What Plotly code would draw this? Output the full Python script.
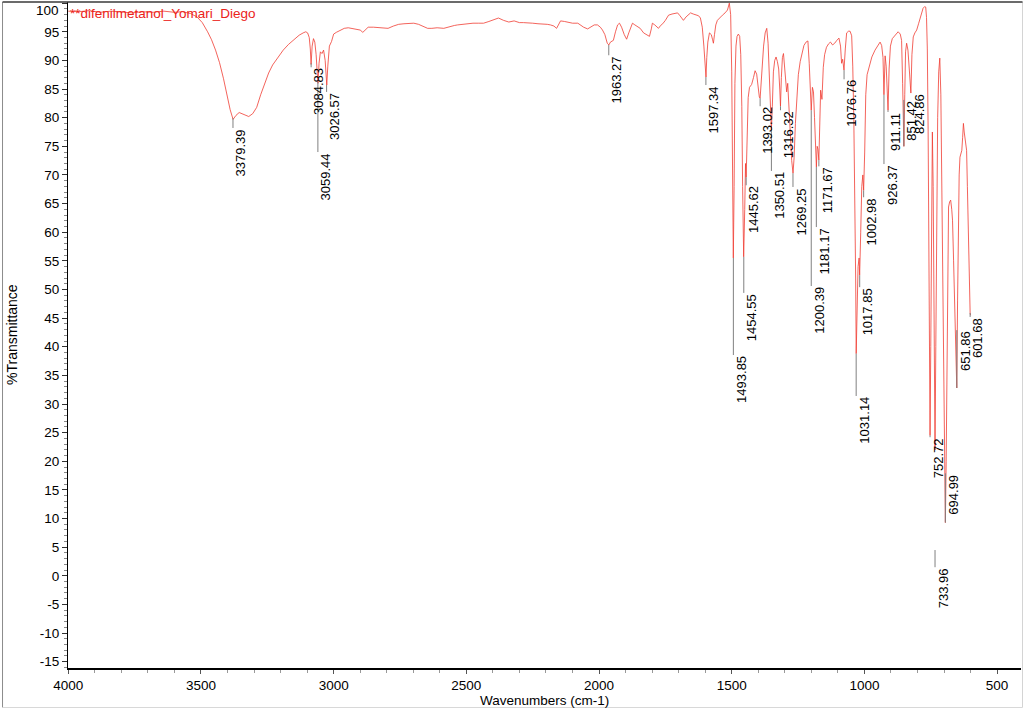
import plotly.graph_objects as go

# ---------------- data ----------------
wavenumber = [
    4000, 3960, 3920, 3880, 3840, 3800, 3760, 3720, 3680, 3640, 3600, 3570, 3540, 3515, 3495,
    3475, 3460, 3445, 3430, 3415, 3400, 3390, 3379, 3368, 3356, 3340, 3320, 3305, 3290, 3275,
    3260, 3245, 3230, 3210, 3190, 3170, 3150, 3130, 3115, 3105, 3098, 3092, 3088, 3085, 3081,
    3076, 3071, 3066, 3062, 3059, 3055, 3050, 3044, 3038, 3032, 3029, 3026, 3022, 3016, 3008,
    3000, 2990, 2975, 2960, 2945, 2930, 2915, 2900, 2890, 2880, 2870, 2850, 2830, 2810, 2795,
    2775, 2755, 2735, 2715, 2698, 2680, 2660, 2646, 2630, 2610, 2585, 2565, 2545, 2533, 2515,
    2495, 2475, 2455, 2435, 2415, 2395, 2379, 2360, 2340, 2320, 2300, 2285, 2269, 2250, 2230,
    2210, 2195, 2183, 2170, 2160, 2152, 2145, 2130, 2115, 2100, 2080, 2068, 2058, 2043, 2030,
    2018, 2006, 1995, 1987, 1978, 1969, 1963, 1957, 1946, 1938, 1930, 1923, 1915, 1905, 1896,
    1888, 1880, 1874, 1865, 1855, 1845, 1832, 1822, 1810, 1803, 1799, 1790, 1782, 1776, 1768,
    1760, 1750, 1738, 1725, 1715, 1704, 1695, 1688, 1682, 1672, 1662, 1655, 1645, 1635, 1625,
    1618, 1611, 1605, 1601, 1597, 1594, 1590, 1584, 1577, 1572, 1569, 1565, 1560, 1554, 1545,
    1535, 1525, 1516, 1509, 1504, 1500, 1497, 1494, 1491, 1488, 1484, 1480, 1475, 1470, 1466,
    1462, 1459, 1455, 1451, 1448, 1445.6, 1442, 1438, 1433, 1425, 1418, 1412, 1406, 1400, 1396,
    1393, 1389, 1385, 1380, 1374, 1368, 1363, 1358, 1354, 1350.5, 1347, 1343, 1338, 1333, 1328,
    1323, 1319, 1316.3, 1313, 1309, 1305, 1301, 1297, 1293, 1289, 1285, 1280, 1274, 1269, 1265,
    1260, 1255, 1249, 1242, 1235, 1228, 1220, 1213, 1208, 1204, 1200.4, 1196, 1192, 1188, 1184,
    1181, 1178, 1175, 1171.7, 1168, 1165, 1160, 1155, 1150, 1143, 1135, 1128, 1120, 1112, 1104,
    1096, 1090, 1086, 1082, 1077, 1072, 1067, 1060, 1054, 1048, 1044, 1040, 1036, 1033, 1031,
    1028, 1024, 1020, 1018, 1014, 1010, 1006, 1003, 999, 995, 990, 983, 972, 960, 950,
    941, 935, 930, 926.4, 922, 918, 914, 911, 907, 902, 895, 885, 873, 865, 860,
    856, 853, 851.4, 848, 845, 841, 836, 831, 827, 824.9, 821, 816, 810, 803, 796,
    790, 784, 779, 773, 769, 766, 763, 760, 757, 755, 752.7, 750, 747, 744, 741,
    738, 736, 734, 731, 728, 724, 720, 716, 712, 708, 704, 700, 697, 695, 692,
    689, 686, 683, 679, 675, 671, 668, 664, 660, 656, 652, 649, 646, 643, 640,
    636, 633, 630, 627, 624, 621, 618, 615, 612, 609, 605, 601.7, 600,
]
transmittance = [
    98.6, 98.5, 98.7, 98.4, 98.6, 98.5, 98.3, 98.5, 98.4, 98.6, 98.4, 98.5, 98.2, 97.6, 96.6,
    95.0, 93.6, 91.8, 89.6, 86.8, 83.6, 81.4, 79.7, 80.4, 80.9, 80.6, 80.2, 80.7, 81.8, 84.0,
    86.0, 87.8, 89.2, 90.6, 91.8, 92.8, 93.6, 94.4, 94.8, 95.0, 94.8, 94.0, 92.0, 89.3, 92.5,
    93.8, 93.2, 91.0, 88.0, 86.0, 89.5, 91.5, 91.2, 91.8, 90.0, 87.0, 85.7, 89.0, 92.5, 93.3,
    94.6, 94.9, 95.3, 95.6, 95.7, 95.6, 95.5, 95.3, 94.9, 95.4, 95.8, 95.8, 95.7, 95.6, 95.6,
    96.0, 96.3, 96.4, 96.4, 96.5, 96.3, 95.9, 95.6, 95.6, 95.7, 95.6, 95.9, 96.1, 96.2, 96.3,
    96.4, 96.5, 96.5, 96.5, 96.8, 97.2, 97.4, 97.0, 96.7, 96.9, 96.6, 96.6, 96.5, 96.5, 96.4,
    96.4, 96.3, 96.2, 96.0, 95.6, 96.4, 96.9, 96.8, 96.6, 96.5, 96.5, 96.1, 95.8, 95.5, 95.9,
    96.2, 96.2, 95.8, 95.3, 94.5, 93.0, 92.7, 93.2, 93.5, 95.0, 96.2, 96.5, 95.8, 94.5, 93.7,
    94.8, 96.0, 96.5, 96.2, 95.9, 95.6, 94.8, 94.5, 94.2, 95.5, 96.5, 96.2, 95.9, 95.6, 96.1,
    96.4, 97.0, 97.9, 98.1, 98.2, 98.3, 97.8, 97.4, 97.0, 97.6, 98.0, 98.3, 98.1, 97.9, 97.8,
    97.4, 95.8, 92.5, 89.0, 87.1, 90.5, 93.2, 94.8, 94.5, 93.6, 93.0, 94.5, 96.2, 97.0, 97.5,
    97.9, 98.3, 98.8, 100.0, 98.0, 88.0, 68.0, 55.5, 68.0, 86.0, 92.5, 94.2, 94.6, 94.2, 91.0,
    82.0, 68.0, 55.7, 64.0, 72.0, 69.6, 77.0, 83.5, 85.3, 85.8, 87.0, 88.2, 87.6, 84.5, 83.6,
    83.4, 86.0, 89.5, 92.5, 94.8, 95.6, 93.0, 86.0, 79.5, 77.8, 82.0, 88.0, 90.0, 90.6, 89.8,
    88.5, 85.0, 82.0, 87.0, 90.5, 91.2, 89.0, 86.2, 84.5, 86.0, 82.0, 77.5, 72.5, 70.3, 73.0,
    79.0, 84.0, 87.5, 89.8, 91.5, 92.6, 93.2, 93.4, 89.5, 85.0, 81.3, 85.3, 84.5, 80.0, 73.0,
    71.4, 75.0, 74.5, 72.6, 80.0, 84.8, 83.2, 88.8, 91.0, 92.3, 92.9, 93.2, 92.7, 93.0, 93.5,
    93.9, 92.5, 89.5, 90.2, 88.3, 92.0, 94.8, 95.1, 95.1, 94.3, 89.0, 80.0, 68.0, 52.0, 38.8,
    45.0, 54.0, 55.5, 52.5, 60.0, 68.0, 70.0, 67.3, 74.0, 84.0, 87.5, 88.8, 90.6, 91.8, 92.6,
    93.2, 92.6, 90.5, 84.0, 90.8, 89.0, 85.0, 81.3, 88.5, 92.5, 93.8, 94.4, 95.0, 94.6, 93.5,
    86.0, 78.0, 75.0, 84.0, 91.5, 93.0, 91.8, 88.5, 85.0, 84.3, 91.0, 94.1, 94.8, 95.3, 96.4,
    97.4, 98.4, 99.1, 99.4, 99.3, 97.5, 92.0, 78.0, 55.0, 35.0, 24.5, 40.0, 65.0, 77.5, 68.0,
    45.0, 28.0, 22.0, 40.0, 62.0, 80.0, 88.0, 90.4, 84.0, 66.0, 40.0, 22.0, 12.0, 9.3, 20.0,
    40.0, 58.0, 64.4, 65.3, 65.6, 64.0, 62.1, 55.0, 46.0, 38.0, 32.8, 48.0, 62.6, 70.0, 73.1,
    74.0, 74.3, 76.5, 79.0, 77.5, 76.6, 75.5, 74.3, 68.0, 59.8, 52.0, 45.9, 45.5,
]

# labelled peaks
peak_wn = [3379.39, 3084.83, 3059.44, 3026.57, 1963.27, 1597.34, 1493.85, 1454.55, 1445.62,
           1393.02, 1350.51, 1316.32, 1269.25, 1200.39, 1181.17, 1171.67, 1076.76, 1031.14,
           1017.85, 1002.98, 926.37, 911.11, 851.42, 824.86, 752.72, 733.96, 694.99, 651.86,
           601.68]
peak_t = [79.9, 89.5, 86.2, 85.7, 92.7, 87.1, 55.5, 55.7, 69.6,
          83.4, 77.8, 82.0, 70.3, 81.3, 71.4, 72.6, 88.3, 38.8,
          52.5, 67.3, 84.0, 81.3, 75.0, 84.3, 24.5, 4.5, 9.3, 32.8,
          45.9]
# where each rotated label starts (its top end), in %T
label_t = [78.2, 88.8, 74.0, 84.5, 90.9, 85.7, 38.55, 49.4, 68.2,
           82.0, 70.7, 81.3, 67.9, 50.6, 60.9, 71.5, 86.7, 31.4,
           50.4, 66.1, 71.9, 81.0, 83.1, 84.3, 24.2, 1.5, 17.9, 42.9,
           45.2]

y_ticks = [-15, -10, -5, 0, 5, 10, 15, 20, 25, 30, 35, 40, 45, 50, 55, 60, 65, 70, 75, 80, 85, 90, 95, 100]
x_ticks = [4000, 3500, 3000, 2500, 2000, 1500, 1000, 500]

title_text = "**difenilmetanol_Yomari_Diego"
x_title = "Wavenumbers (cm-1)"
y_title = "%Transmittance"

# ---------------- figure ----------------
FONT = "Liberation Sans, Arial, sans-serif"
RED = "rgb(240,60,50)"

fig = go.Figure()
fig.add_trace(go.Scatter(
    x=wavenumber, y=transmittance, mode="lines",
    line=dict(color=RED, width=0.8), hoverinfo="skip", showlegend=False,
))

shapes = []
annotations = []
for w, pt, lt in zip(peak_wn, peak_t, label_t):
    shapes.append(dict(type="line", xref="x", yref="y", x0=w, x1=w, y0=pt, y1=lt,
                       line=dict(color="#808080", width=1), layer="above"))
    annotations.append(dict(
        x=w, y=lt, xref="x", yref="y", text=f"{w:.2f}", showarrow=False,
        textangle=-90, xanchor="center", yanchor="top", xshift=8, borderpad=0,
        font=dict(family=FONT, size=13, color="black"),
    ))

# frame around the whole picture
shapes.append(dict(type="line", xref="paper", yref="paper", x0=-0.0687, x1=-0.0687, y0=-0.0593, y1=1.0,
                   line=dict(color="#8c8c8c", width=1)))
shapes.append(dict(type="line", xref="paper", yref="paper", x0=1.0016, x1=1.0016, y0=-0.0593, y1=1.0,
                   line=dict(color="#d4d4d4", width=1)))
shapes.append(dict(type="line", xref="paper", yref="paper", x0=-0.0687, x1=1.0016, y0=-0.0593, y1=-0.0593,
                   line=dict(color="#d8d8d8", width=1)))
shapes.append(dict(type="line", xref="paper", yref="paper", x0=-0.0687, x1=1.0016, y0=1.0, y1=1.0,
                   line=dict(color="#3a3a3a", width=1.5)))

# title, axis titles and the shifted "100" label
annotations.append(dict(x=0, y=1, xref="paper", yref="paper", xanchor="left", yanchor="top",
                        yshift=-2, showarrow=False, text=title_text,
                        font=dict(family=FONT, size=13.5, color="rgb(235,35,25)")))
annotations.append(dict(x=0.5, y=0, xref="paper", yref="paper", xanchor="center", yanchor="top",
                        yshift=-23, showarrow=False, text=x_title,
                        font=dict(family=FONT, size=13.5, color="black")))
annotations.append(dict(x=0, y=0.5, xref="paper", yref="paper", xanchor="center", yanchor="middle",
                        xshift=-56, showarrow=False, text=y_title, textangle=-90,
                        font=dict(family=FONT, size=14, color="black")))
annotations.append(dict(x=0, y=100, xref="paper", yref="y", xanchor="right", yanchor="middle",
                        xshift=-7, yshift=-7, showarrow=False, text="100",
                        font=dict(family=FONT, size=13.5, color="black")))

fig.update_layout(
    width=1024, height=710,
    margin=dict(l=68, r=3, t=2, b=42),
    paper_bgcolor="white", plot_bgcolor="white",
    showlegend=False,
    shapes=shapes, annotations=annotations,
    font=dict(family=FONT, size=13.5, color="black"),
)
fig.update_xaxes(
    range=[4001, 410], tickmode="array", tickvals=x_ticks, ticktext=[str(v) for v in x_ticks],
    showgrid=False, zeroline=False, showline=True, linecolor="black", linewidth=2,
    ticks="outside", ticklen=4, tickcolor="#555", tickfont=dict(family=FONT, size=13.5),
    minor=dict(dtick=100, tick0=0, ticks="outside", ticklen=3, tickcolor="#999", showgrid=False),
)
fig.update_yaxes(
    range=[-16.1, 100.2], tickmode="array", tickvals=y_ticks,
    ticktext=[("" if v == 100 else str(v)) for v in y_ticks],
    showgrid=False, zeroline=False, showline=True, linecolor="black", linewidth=1,
    ticks="outside", ticklen=5, tickcolor="#333", tickfont=dict(family=FONT, size=13.5),
    minor=dict(dtick=1, tick0=0, ticks="outside", ticklen=3, tickcolor="#888", showgrid=False),
)

fig.write_html(
    "out.html",
    config={"displayModeBar": False},
    post_script="document.body.style.margin='0';document.body.style.overflow='hidden';",
)
